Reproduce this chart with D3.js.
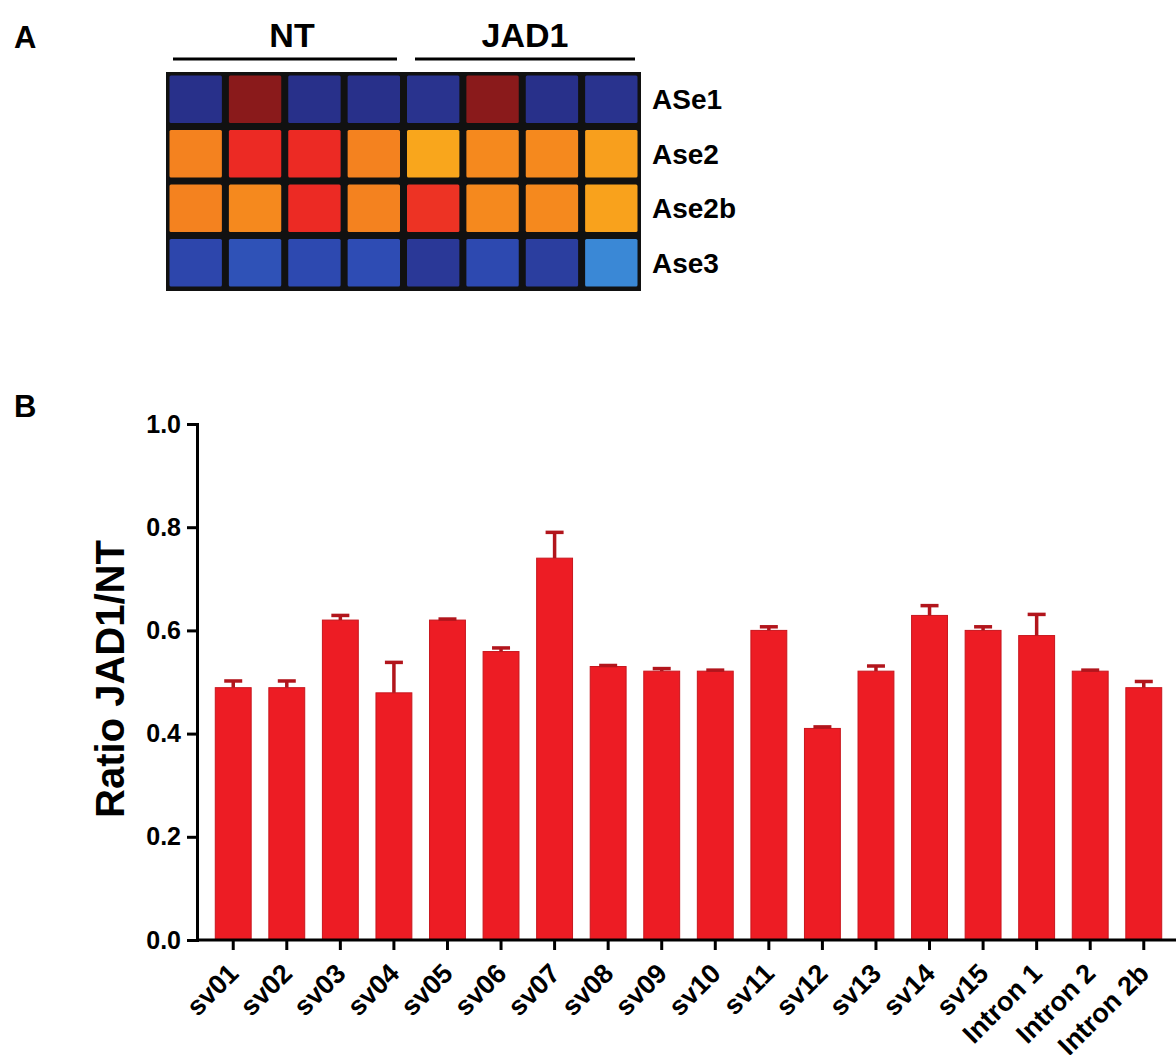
<!DOCTYPE html>
<meta charset="utf-8">
<style>
body {
  margin: 0;
  background: #fff;
  font-family: "Liberation Sans", Arial, sans-serif;
}
.panel {
  font-weight: bold;
  font-size: 28px;
}
.axis text {
  font-weight: bold;
  font-family: "Liberation Sans", Arial, sans-serif;
}
.bar {
  fill: #ed1c24;
  stroke: #c8161d;
  stroke-width: 1;
}
.err {
  stroke: #b2151c;
  stroke-width: 3.5;
}
</style>
<body>
<svg width="1176" height="1055"></svg>
<script src="https://cdn.jsdelivr.net/npm/d3@7"></script>
<script>
// panel A: heatmap
var samples = ["NT1", "NT2", "NT3", "NT4", "JAD1_1", "JAD1_2", "JAD1_3", "JAD1_4"];
var exons = ["ASe1", "Ase2", "Ase2b", "Ase3"];
var heat = [
  [-3, 4, -3, -3, -2.9, 4, -3, -2.9],
  [2, 3, 3, 2, 1, 1.8, 1.8, 1.2],
  [2, 1.8, 3, 2, 2.9, 1.8, 1.8, 1.1],
  [-2.2, -1.9, -2.1, -2.0, -2.7, -2.1, -2.5, -1.0]
];
var groups = ["NT", "JAD1"];

// panel B: bars
var variants = ["sv01", "sv02", "sv03", "sv04", "sv05", "sv06", "sv07", "sv08", "sv09",
  "sv10", "sv11", "sv12", "sv13", "sv14", "sv15", "Intron 1", "Intron 2", "Intron 2b"];
var ratio = [0.489, 0.489, 0.620, 0.479, 0.620, 0.559, 0.740, 0.530, 0.521,
  0.521, 0.600, 0.410, 0.521, 0.629, 0.600, 0.590, 0.521, 0.489];
var sem = [0.013, 0.013, 0.009, 0.059, 0.002, 0.007, 0.050, 0.002, 0.005,
  0.002, 0.007, 0.003, 0.010, 0.019, 0.007, 0.041, 0.002, 0.012];
var yTicks = [0, 0.2, 0.4, 0.6, 0.8, 1.0];

var svg = d3.select("svg");

svg.append("text").attr("class", "panel").attr("x", 14).attr("y", 48).style("font-size", "31px").text("A");
svg.append("text").attr("class", "panel").attr("x", 14).attr("y", 417).style("font-size", "31px").text("B");

// heatmap
var hx = d3.scaleBand().domain(samples).range([166, 641]);
var hy = d3.scaleBand().domain(exons).range([72, 290]);
var heatColor = d3.scaleLinear()
    .domain([-3, -2, -1, 1, 2, 3, 4])
    .range(["#28308a", "#2e4cb4", "#3a88d6", "#f9a61c", "#f4821f", "#ec2a24", "#8a1a1b"]);

svg.append("rect")
    .attr("x", 166).attr("y", 72)
    .attr("width", 475).attr("height", 219)
    .attr("fill", "#111");

exons.forEach(function(e, i) {
  svg.selectAll(".cell-" + i)
    .data(heat[i])
    .enter().append("rect")
      .attr("x", function(d, j) { return hx(samples[j]) + 3.5; })
      .attr("y", hy(e) + 3.5)
      .attr("width", hx.bandwidth() - 7)
      .attr("height", hy.bandwidth() - 7)
      .attr("rx", 1.5)
      .attr("fill", function(d) { return heatColor(d); });
});

svg.selectAll(".rowlab")
  .data(exons)
  .enter().append("text")
    .attr("class", "panel")
    .attr("x", 652)
    .attr("y", function(d) { return hy(d) + hy.bandwidth() / 2 + 10; })
    .text(function(d) { return d; });

// group header bars
groups.forEach(function(g, i) {
  var x0 = i == 0 ? 173 : 415, x1 = i == 0 ? 397 : 635;
  svg.append("line")
    .attr("x1", x0).attr("x2", x1)
    .attr("y1", 59).attr("y2", 59)
    .attr("stroke", "#000").attr("stroke-width", 3);
  svg.append("text")
    .attr("class", "panel")
    .attr("x", (x0 + x1) / 2 + (i == 0 ? 7 : 0)).attr("y", 47)
    .attr("text-anchor", "middle")
    .style("font-size", "34px")
    .text(g);
});

// bar chart
var x = d3.scaleBand().domain(variants).range([196, 1181]).paddingInner(0.33).paddingOuter(0.36),
    y = d3.scaleLinear().domain([0, 1]).range([940, 424]);

svg.selectAll(".bar")
  .data(variants)
  .enter().append("rect")
    .attr("class", "bar")
    .attr("x", function(d) { return x(d); })
    .attr("y", function(d, i) { return y(ratio[i]); })
    .attr("width", x.bandwidth())
    .attr("height", function(d, i) { return y(0) - y(ratio[i]); });

var eb = svg.selectAll(".eb")
  .data(variants)
  .enter().append("g");
eb.append("line")
    .attr("class", "err")
    .attr("x1", function(d) { return x(d) + x.bandwidth() / 2; })
    .attr("x2", function(d) { return x(d) + x.bandwidth() / 2; })
    .attr("y1", function(d, i) { return y(ratio[i]); })
    .attr("y2", function(d, i) { return y(ratio[i] + sem[i]); });
eb.append("line")
    .attr("class", "err")
    .attr("x1", function(d) { return x(d) + x.bandwidth() / 2 - 9; })
    .attr("x2", function(d) { return x(d) + x.bandwidth() / 2 + 9; })
    .attr("y1", function(d, i) { return y(ratio[i] + sem[i]); })
    .attr("y2", function(d, i) { return y(ratio[i] + sem[i]); });

var yAxis = svg.append("g")
    .attr("class", "axis")
    .attr("transform", "translate(197,0)")
    .call(d3.axisLeft(y).tickValues(yTicks).tickFormat(d3.format(".1f")).tickSize(10).tickPadding(6));
yAxis.selectAll("text").style("font-size", "25px");

var xAxis = svg.append("g")
    .attr("class", "axis")
    .attr("transform", "translate(0,940)")
    .call(d3.axisBottom(x).tickSize(10).tickSizeOuter(0));
xAxis.selectAll("text")
    .style("font-size", "27px")
    .style("text-anchor", "end")
    .attr("x", 0).attr("y", 0).attr("dy", 0)
    .attr("transform", "translate(7,35) rotate(-45)");

svg.selectAll(".axis path, .axis line")
    .attr("stroke", "#000")
    .attr("stroke-width", 3);
xAxis.select(".domain").attr("d", "M196,0H1181");

svg.append("text")
    .attr("transform", "translate(124,679) rotate(-90)")
    .attr("text-anchor", "middle")
    .style("font-weight", "bold")
    .style("font-size", "40px")
    .text("Ratio JAD1/NT");
</script>
</body>
